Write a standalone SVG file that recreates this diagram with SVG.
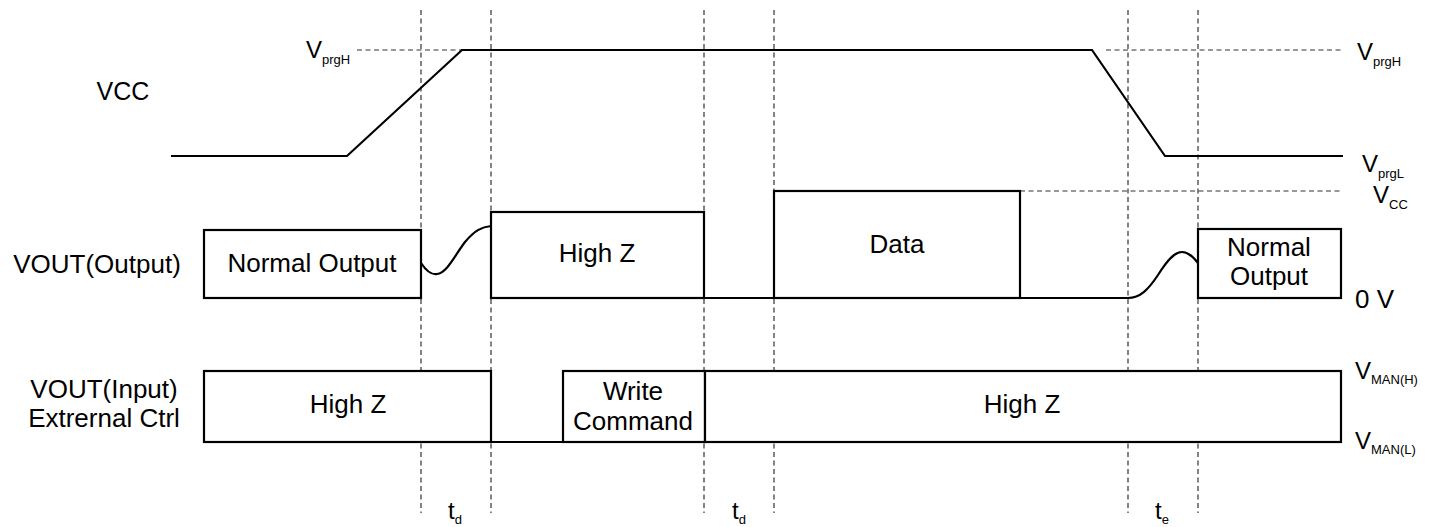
<svg xmlns="http://www.w3.org/2000/svg" width="1438" height="527" viewBox="0 0 1438 527">
<style>
.w{fill:none;stroke:#000;stroke-width:2.2}
.b{fill:#fff;stroke:#000;stroke-width:2.2}
.d{fill:none;stroke:#333;stroke-width:1.2;stroke-dasharray:5,3.5}
text{font-family:"Liberation Sans",Arial,sans-serif;fill:#000}
.t{font-size:26px}
.m{text-anchor:middle}
.v{font-size:24px}
.s{font-size:13px}
</style>
<rect width="1438" height="527" fill="#fff"/>
<g id="guides">
<line class="d" x1="421" y1="10" x2="421" y2="513"/>
<line class="d" x1="491" y1="10" x2="491" y2="513"/>
<line class="d" x1="704" y1="10" x2="704" y2="513"/>
<line class="d" x1="774" y1="10" x2="774" y2="513"/>
<line class="d" x1="1128" y1="10" x2="1128" y2="513"/>
<line class="d" x1="1198" y1="10" x2="1198" y2="513"/>
<line class="d" x1="357" y1="50" x2="462" y2="50"/>
<line class="d" x1="1106" y1="50" x2="1342" y2="50"/>
<line class="d" x1="1020" y1="191" x2="1342" y2="191"/>
</g>
<g id="vcc">
<polyline class="w" points="171,156 347,156 462,50 1092,50 1165,156 1343,156"/>
<text class="m" style="font-size:25px" x="123" y="100">VCC</text>
</g>
<g id="vout-output">
<text class="t m" x="97" y="273">VOUT(Output)</text>
<rect class="b" x="204" y="230" width="217" height="68"/>
<text class="t m" x="312" y="272">Normal Output</text>
<path class="w" d="M421,263 C427,272 432,275 437,274 C447,273 455,255 465,242 C475,230 482,227 491,226"/>
<rect class="b" x="491" y="212" width="213" height="86"/>
<text class="t m" x="597" y="262">High Z</text>
<line class="w" x1="704" y1="298" x2="774" y2="298"/>
<rect class="b" x="774" y="191" width="246" height="107"/>
<text class="t m" x="897" y="253">Data</text>
<path class="w" d="M1020,298 L1128,298 C1140,298 1148,290 1158,275 C1168,259 1175,252 1182,252 C1189,252 1194,258 1198,263"/>
<rect class="b" x="1198" y="229" width="143" height="69"/>
<text class="t m" x="1269" y="256">Normal</text>
<text class="t m" x="1269" y="285">Output</text>
</g>
<g id="vout-input">
<text class="t m" x="104" y="398">VOUT(Input)</text>
<text class="t m" x="104" y="427">Extrernal Ctrl</text>
<rect class="b" x="204" y="371" width="287" height="71"/>
<text class="t m" x="348" y="413">High Z</text>
<line class="w" x1="491" y1="442" x2="563" y2="442"/>
<rect class="b" x="563" y="371" width="142" height="71"/>
<text class="t m" x="633" y="400">Write</text>
<text class="t m" x="633" y="430">Command</text>
<rect class="b" x="705" y="371" width="636" height="71"/>
<text class="t m" x="1022" y="413">High Z</text>
</g>
<g id="levels">
<text x="306" y="58"><tspan class="v">V</tspan><tspan class="s" dy="6">prgH</tspan></text>
<text x="1357" y="60"><tspan class="v">V</tspan><tspan class="s" dy="6">prgH</tspan></text>
<text x="1362" y="172"><tspan class="v">V</tspan><tspan class="s" dy="6">prgL</tspan></text>
<text x="1373" y="203"><tspan class="v">V</tspan><tspan class="s" dy="6">CC</tspan></text>
<text class="t" x="1355" y="308">0 V</text>
<text x="1355" y="379"><tspan class="v">V</tspan><tspan class="s" dy="5">MAN(H)</tspan></text>
<text x="1355" y="449"><tspan class="v">V</tspan><tspan class="s" dy="5">MAN(L)</tspan></text>
</g>
<g id="timing">
<text x="448" y="519"><tspan class="v">t</tspan><tspan class="s" dy="5">d</tspan></text>
<text x="732" y="519"><tspan class="v">t</tspan><tspan class="s" dy="5">d</tspan></text>
<text x="1155" y="519"><tspan class="v">t</tspan><tspan class="s" dy="5">e</tspan></text>
</g>
</svg>
